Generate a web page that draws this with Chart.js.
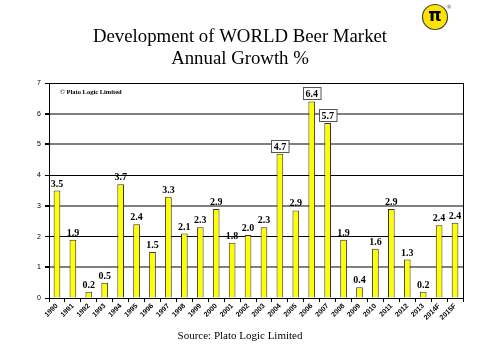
<!DOCTYPE html>
<html><head><meta charset="utf-8">
<script src="https://cdn.jsdelivr.net/npm/chart.js@4/dist/chart.umd.min.js"></script>
<style>html,body{margin:0;padding:0;background:#fff}#wrap{width:480px;height:360px}</style>
</head><body><div id="wrap"><canvas id="c" width="480" height="360"></canvas></div>
<script>
const categories = ["1990","1991","1992","1993","1994","1995","1996","1997","1998","1999","2000","2001","2002","2003","2004","2005","2006","2007","2008","2009","2010","2011","2012","2013","2014F","2015F"];
const growth = [3.5,1.9,0.2,0.5,3.7,2.4,1.5,3.3,2.1,2.3,2.9,1.8,2.05,2.3,4.7,2.85,6.4,5.7,1.9,0.35,1.6,2.9,1.25,0.2,2.37,2.45];
const labels = ["3.5","1.9","0.2","0.5","3.7","2.4","1.5","3.3","2.1","2.3","2.9","1.8","2.0","2.3","4.7","2.9","6.4","5.7","1.9","0.4","1.6","2.9","1.3","0.2","2.4","2.4"];
const boxed = ["2004","2006","2007"];
const yTicks = [0,1,2,3,4,5,6,7];
const titleLines = ["Development of WORLD Beer Market","Annual Growth %"];
const sourceText = "Source: Plato Logic Limited";
const copyrightText = "\u00A9 Plato Logic Limited";

const decor = {
  id:'decor',
  afterDraw(chart){
    const ctx = chart.ctx, a = chart.chartArea;
    ctx.save();
    ctx.strokeStyle = '#000'; ctx.lineWidth = 1;
    ctx.strokeRect(Math.round(a.left)+0.5, Math.round(a.top)+0.5, Math.round(a.right-a.left), Math.round(a.bottom-a.top));
    ctx.fillStyle = '#000'; ctx.textAlign = 'center'; ctx.textBaseline = 'alphabetic';
    ctx.font = '18.8px "Liberation Serif", "Times New Roman", serif';
    ctx.fillText(titleLines[0], 240, 42);
    ctx.fillText(titleLines[1], 240, 64);
    ctx.font = '11px "Liberation Serif", serif';
    ctx.fillText(sourceText, 240, 339);
    ctx.textAlign = 'left';
    ctx.font = 'bold 6.5px "Liberation Serif", serif';
    ctx.fillText(copyrightText, 60, 94);
    ctx.beginPath(); ctx.arc(435, 17, 12.5, 0, Math.PI*2);
    ctx.fillStyle = '#FFE400'; ctx.fill();
    ctx.lineWidth = 1.2; ctx.strokeStyle = '#444'; ctx.stroke();
    ctx.fillStyle = '#000'; ctx.textAlign = 'center'; ctx.textBaseline = 'middle';
    ctx.font = 'bold 17px "DejaVu Sans", sans-serif';
    ctx.fillText('\u03C0', 435, 17);
    ctx.font = '6px "DejaVu Sans", sans-serif'; ctx.fillStyle = '#666';
    ctx.fillText('\u00AE', 449, 7);
    const meta = chart.getDatasetMeta(0);
    ctx.font = 'bold 10px "Liberation Serif", serif';
    ctx.textAlign = 'center'; ctx.textBaseline = 'alphabetic';
    meta.data.forEach((bar, i) => {
      const t = labels[i];
      const x = bar.x, y = bar.y;
      if (boxed.includes(categories[i])) {
        const w = ctx.measureText(t).width + 5, h = 12;
        const bx = Math.round(x - w/2)+0.5, by = Math.round(y - h - 2)+0.5;
        ctx.fillStyle = '#fff'; ctx.fillRect(bx, by, w, h);
        ctx.strokeStyle = '#555'; ctx.lineWidth = 1; ctx.strokeRect(bx, by, w, h);
        ctx.fillStyle = '#000'; ctx.fillText(t, x, by + h - 2.5);
      } else {
        ctx.fillStyle = '#000'; ctx.fillText(t, x, y - 4);
      }
    });
    ctx.restore();
  }
};

new Chart(document.getElementById('c'), {
  type: 'bar',
  data: { labels: categories, datasets: [{ data: growth, backgroundColor: '#FFFF00', borderColor: '#333', borderWidth: 1, barPercentage: 0.42, categoryPercentage: 1 }] },
  options: {
    responsive: false, animation: false,
    layout: { padding: { left: 28, right: 17, top: 83, bottom: 0 } },
    plugins: { legend: { display: false }, tooltip: { enabled: false } },
    scales: {
      x: {
        grid: { display: true, drawOnChartArea: false, drawTicks: true, tickLength: 4, color: '#000', offset: true },
        border: { color: '#000' },
        ticks: { autoSkip: false, minRotation: 45, maxRotation: 45, padding: 0, color: '#000', font: { family: 'Arial, "Liberation Sans", sans-serif', size: 7, weight: 'bold' } },
        afterFit(s){ s.height = 62; }
      },
      y: {
        min: 0, max: 7,
        afterBuildTicks(s){ s.ticks = yTicks.map(v => ({ value: v })); },
        afterFit(s){ s.width = 21; },
        grid: {
          color: c => (c.tick && (c.tick.value === 2 || c.tick.value === 4 || c.tick.value === 7 || c.tick.value === 0)) ? '#000' : '#808080',
          lineWidth: c => (c.tick && (c.tick.value === 2 || c.tick.value === 4 || c.tick.value === 7 || c.tick.value === 0)) ? 1 : 2,
          tickLength: 4, tickColor: '#000'
        },
        border: { color: '#000' },
        ticks: { padding: 4, color: '#000', font: { family: 'Arial, "Liberation Sans", sans-serif', size: 7 } }
      }
    }
  },
  plugins: [decor]
});
</script></body></html>
